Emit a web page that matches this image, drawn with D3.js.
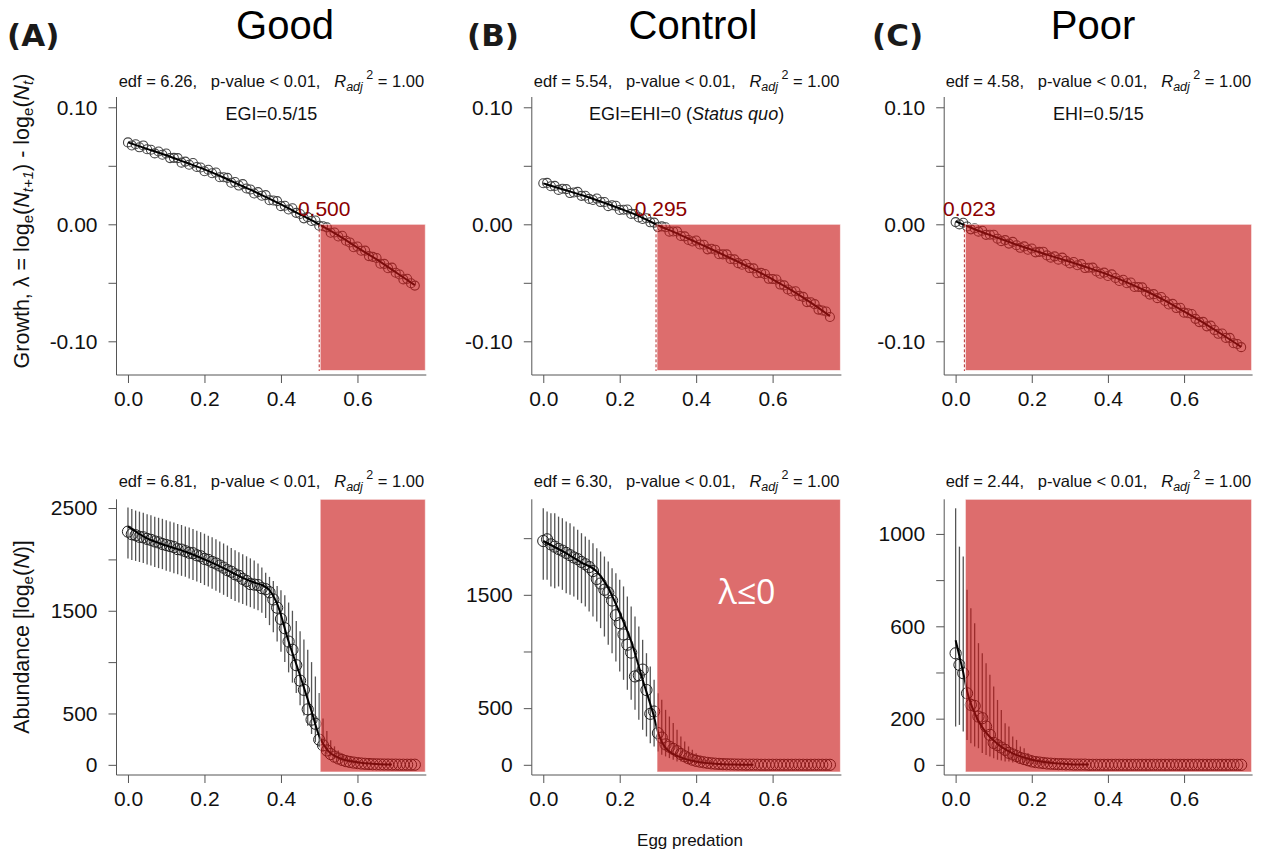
<!DOCTYPE html>
<html><head><meta charset="utf-8">
<script src="https://cdn.jsdelivr.net/npm/d3@7"></script>
<style>
body{margin:0;background:#fff}
svg{display:block;font-family:"Liberation Sans",Arial,sans-serif}
text{white-space:pre}
</style>
</head><body>
<svg id="c" width="1263" height="854"></svg>
<script>
// ---------------- data ----------------
const predation = [0,0.01,0.02,0.03,0.04,0.05,0.06,0.07,0.08,0.09,0.1,0.11,0.12,0.13,0.14,0.15,0.16,0.17,0.18,0.19,0.2,0.21,0.22,0.23,0.24,0.25,0.26,0.27,0.28,0.29,0.3,0.31,0.32,0.33,0.34,0.35,0.36,0.37,0.38,0.39,0.4,0.41,0.42,0.43,0.44,0.45,0.46,0.47,0.48,0.49,0.5,0.51,0.52,0.53,0.54,0.55,0.56,0.57,0.58,0.59,0.6,0.61,0.62,0.63,0.64,0.65,0.66,0.67,0.68,0.69,0.7,0.71,0.72,0.73,0.74,0.75];

const scenarios = ["Good","Control","Poor"];
const panelLetters = ["(A)","(B)","(C)"];
const edfGrowth = ["6.26","5.54","4.58"];
const edfAbund = ["6.81","6.30","2.44"];
const thresholds = [0.500, 0.295, 0.023];
const thresholdLabels = ["0.500","0.295","0.023"];

const growthGood = [0.0700,0.0674,0.0684,0.0658,0.0674,0.0641,0.0637,0.0606,0.0622,0.0595,
 0.0605,0.0566,0.0568,0.0566,0.0527,0.0536,0.0509,0.0524,0.0490,0.0485,
 0.0453,0.0466,0.0436,0.0443,0.0402,0.0402,0.0397,0.0355,0.0361,0.0331,
 0.0343,0.0306,0.0298,0.0263,0.0275,0.0244,0.0249,0.0206,0.0204,0.0198,
 0.0155,0.0159,0.0127,0.0137,0.0098,0.0088,0.0051,0.0061,0.0028,0.0032,
 -0.0012,-0.0017,-0.0026,-0.0072,-0.0070,-0.0104,-0.0098,-0.0141,-0.0155,-0.0196,
 -0.0190,-0.0226,-0.0225,-0.0272,-0.0278,-0.0288,-0.0337,-0.0338,-0.0375,-0.0370,
 -0.0414,-0.0429,-0.0471,-0.0466,-0.0504,-0.0524];
const growthControl = [0.0351,0.0354,0.0325,0.0328,0.0294,0.0304,0.0301,0.0267,0.0272,0.0277,
 0.0243,0.0244,0.0217,0.0208,0.0220,0.0190,0.0191,0.0155,0.0163,0.0158,
 0.0122,0.0124,0.0126,0.0089,0.0088,0.0059,0.0045,0.0052,0.0017,0.0014,
 -0.0024,-0.0018,-0.0025,-0.0063,-0.0062,-0.0061,-0.0100,-0.0103,-0.0134,-0.0147,
 -0.0139,-0.0173,-0.0175,-0.0214,-0.0209,-0.0217,-0.0256,-0.0257,-0.0257,-0.0297,
 -0.0300,-0.0332,-0.0346,-0.0339,-0.0374,-0.0377,-0.0418,-0.0415,-0.0425,-0.0466,
 -0.0468,-0.0472,-0.0515,-0.0522,-0.0557,-0.0574,-0.0572,-0.0612,-0.0620,-0.0665,
 -0.0666,-0.0682,-0.0729,-0.0737,-0.0745,-0.0792];
const growthPoor = [0.0019,-0.0001,0.0013,-0.0019,-0.0043,-0.0034,-0.0063,-0.0055,-0.0090,-0.0089,
 -0.0089,-0.0123,-0.0144,-0.0135,-0.0165,-0.0150,-0.0179,-0.0201,-0.0189,-0.0217,
 -0.0207,-0.0240,-0.0236,-0.0234,-0.0266,-0.0285,-0.0274,-0.0302,-0.0285,-0.0313,
 -0.0334,-0.0322,-0.0350,-0.0340,-0.0374,-0.0371,-0.0370,-0.0403,-0.0423,-0.0413,
 -0.0442,-0.0428,-0.0459,-0.0484,-0.0474,-0.0504,-0.0498,-0.0536,-0.0536,-0.0539,
 -0.0576,-0.0601,-0.0597,-0.0631,-0.0621,-0.0655,-0.0685,-0.0680,-0.0716,-0.0713,
 -0.0755,-0.0760,-0.0767,-0.0808,-0.0836,-0.0834,-0.0872,-0.0866,-0.0904,-0.0936,
 -0.0933,-0.0971,-0.0971,-0.1016,-0.1023,-0.1050];

const growthFitX = [0,0.05,0.1,0.15,0.2,0.25,0.3,0.35,0.4,0.45,0.5,0.55,0.6,0.65,0.7,0.75];
const growthGoodFit = [0.070,0.0645,0.059,0.053,0.047,0.040,0.0325,0.025,0.017,0.0085,0.000,-0.0095,-0.020,-0.030,-0.041,-0.052];
const growthControlFit = [0.035,0.030,0.025,0.0195,0.0135,0.007,-0.0008,-0.0078,-0.0153,-0.0228,-0.0305,-0.0385,-0.047,-0.0565,-0.067,-0.0785];
const growthPoorFit = [0.0025,-0.0042,-0.0103,-0.0162,-0.0218,-0.027,-0.032,-0.0373,-0.043,-0.0496,-0.057,-0.0652,-0.0745,-0.084,-0.0942,-0.1048];

const abundGood = [2270,2245,2235,2220,2215,2200,2190,2175,2165,2150,
 2140,2130,2120,2100,2095,2080,2065,2060,2040,2030,
 2005,1995,1975,1960,1940,1920,1895,1880,1855,1840,
 1810,1790,1760,1755,1750,1720,1710,1680,1610,1530,
 1420,1330,1200,1120,970,820,730,540,440,400,
 245,190,140,105,80,62,48,36,28,22,
 17,13,10,8,6,5,4,3,3,2,
 2,1,1,1,1,1];
const abundGoodLo = [2008,1995,1985,1975,1965,1950,1940,1925,1915,1905,
 1890,1880,1865,1855,1840,1830,1815,1800,1785,1770,
 1750,1735,1715,1695,1675,1655,1635,1615,1595,1580,
 1565,1550,1535,1520,1505,1480,1430,1360,1290,1200,
 1100,1000,900,800,700,580,480,380,300,220,
 170,130,100,80,60,45,35,25,18,12,8];
const abundGoodHi = [2506,2490,2475,2465,2455,2440,2430,2415,2405,2395,
 2380,2370,2360,2345,2335,2320,2310,2295,2280,2265,
 2250,2230,2215,2195,2175,2155,2135,2110,2090,2070,
 2050,2030,2010,1990,1960,1920,1870,1830,1790,1740,
 1700,1650,1580,1500,1400,1300,1220,1120,1000,860,
 700,450,330,240,180,140,110,80,60,45,35];
const abundGoodFitX = [0,0.05,0.10,0.15,0.20,0.25,0.30,0.33,0.35,0.37,0.39,0.42,0.45,0.48,0.50,0.52,0.55,0.60,0.65,0.69];
const abundGoodFit = [2320,2205,2135,2075,2000,1915,1820,1775,1750,1700,1570,1200,870,520,280,150,70,25,8,3];

const abundControl = [1975,1990,1945,1925,1905,1890,1870,1850,1830,1815,
 1790,1770,1745,1710,1640,1600,1545,1520,1450,1320,
 1250,1150,1060,990,780,790,840,660,450,470,
 280,240,180,160,140,120,95,75,58,45,
 35,28,22,17,13,10,8,6,5,4,
 3,2,2,1,1,1,1,0,0,0,
 0,0,0,0,0,0,0,0,0,0,
 0,0,0,0,0,0];
const abundControlLo = [1632,1632,1574,1559,1574,1544,1515,1500,1485,1456,
 1426,1397,1353,1309,1265,1206,1132,1059,985,912,
 824,750,662,574,485,397,309,250,191,162,
 118,88,74,59,44,29,29,21,15,15,9,9,6,6,3];
const abundControlHi = [2265,2235,2220,2220,2190,2176,2147,2132,2103,2074,
 2044,2015,1985,1956,1912,1882,1838,1794,1735,1691,
 1632,1574,1485,1397,1309,1221,1103,985,868,750,
 632,574,485,426,368,309,250,206,162,132,103,80,59,44,35];
const abundControlFitX = [0,0.05,0.10,0.14,0.17,0.20,0.23,0.26,0.29,0.30,0.32,0.36,0.40,0.45,0.50,0.55];
const abundControlFit = [1975,1885,1785,1705,1560,1340,1090,750,420,290,150,65,28,10,3,1];

const abundPoor = [483,433,397,310,260,255,209,202,166,130,
 95,85,75,65,52,45,38,30,25,20,
 15,12,10,8,6,5,4,3,3,2,
 2,1,1,1,1,0,0,0,0,0,
 0,0,0,0,0,0,0,0,0,0,
 0,0,0,0,0,0,0,0,0,0,
 0,0,0,0,0,0,0,0,0,0,
 0,0,0,0,0,0];
const abundPoorLo = [166,173,144,108,94,79,72,51,43,36,29,22,19,14,14,10,10,7,7,4,4,3,2,2,1,1];
const abundPoorHi = [1111,945,902,758,678,613,527,483,440,390,339,281,238,180,166,123,108,79,72,51,43,36,29,25,22,19];
const abundPoorFitX = [0,0.01,0.02,0.03,0.04,0.05,0.06,0.08,0.10,0.12,0.15,0.20,0.25,0.30,0.35];
const abundPoorFit = [540,470,400,320,265,225,190,140,105,78,50,22,9,3,1];

const xTicks = [0,0.2,0.4,0.6];
const xTickLabels = ["0.0","0.2","0.4","0.6"];
const growthTicks = [0.10,0.05,0.00,-0.05,-0.10];
const growthTickLabels = ["0.10","","0.00","","-0.10"];
const abundTicks = [[0,500,1000,1500,2000,2500],[0,500,1000,1500,2000],[0,200,400,600,800,1000]];
const abundTickLabels = [["0","500","","1500","","2500"],["0","500","","1500",""],["0","200","","600","","1000"]];

// ---------------- layout ----------------
const svg = d3.select("#c");
const colLeft = [116.5, 531.8, 944.2];
const colWidth = [309.8, 309.6, 308.4];
const rowTop = [97, 499.3];
const rowBottom = [375, 775];
const xDomain = [-0.03, 0.78];
const growthDomain = [-0.1288, 0.1088];
const abundDomains = [[-99,2585],[-90,2343],[-44,1150]];
const FONT = "'Liberation Sans', Arial, sans-serif";
const redFill = "rgb(200,20,20)";

const growthSets = [
  {pts: growthGood, fit: growthGoodFit},
  {pts: growthControl, fit: growthControlFit},
  {pts: growthPoor, fit: growthPoorFit}];
const abundSets = [
  {pts: abundGood, lo: abundGoodLo, hi: abundGoodHi, fx: abundGoodFitX, fit: abundGoodFit},
  {pts: abundControl, lo: abundControlLo, hi: abundControlHi, fx: abundControlFitX, fit: abundControlFit},
  {pts: abundPoor, lo: abundPoorLo, hi: abundPoorHi, fx: abundPoorFitX, fit: abundPoorFit}];

function drawAxes(g, x, y, yTicks, yLabels) {
  const [x0, x1] = x.range();
  const [yb, yt] = y.range();
  g.append("line").attr("x1", x0).attr("x2", x1).attr("y1", yb).attr("y2", yb)
    .attr("stroke", "#555").attr("stroke-width", 1);
  g.append("line").attr("x1", x0).attr("x2", x0).attr("y1", yb).attr("y2", yt)
    .attr("stroke", "#555").attr("stroke-width", 1);
  const ax = g.append("g").attr("transform", `translate(0,${yb})`)
    .call(d3.axisBottom(x).tickValues(xTicks).tickFormat((d, i) => xTickLabels[i])
      .tickSize(8).tickPadding(8).tickSizeOuter(0));
  const ay = g.append("g").attr("transform", `translate(${x0},0)`)
    .call(d3.axisLeft(y).tickValues(yTicks).tickFormat((d, i) => yLabels[i])
      .tickSize(8).tickPadding(11).tickSizeOuter(0));
  [ax, ay].forEach(a => {
    a.select(".domain").remove();
    a.attr("font-size", 21).attr("font-family", FONT);
    a.selectAll(".tick line").attr("stroke", "#555");
    a.selectAll(".tick text").attr("fill", "#111");
  });
}

function statsText(g, cx, y, edf) {
  const t = g.append("text").attr("x", cx).attr("y", y).attr("text-anchor", "middle")
    .attr("font-size", 16.5).attr("font-family", FONT).attr("fill", "#111");
  t.append("tspan").text(`edf = ${edf},   p-value < 0.01,   `);
  t.append("tspan").attr("font-style", "italic").text("R");
  t.append("tspan").attr("font-style", "italic").attr("font-size", 12.5).attr("dy", 4).text("adj");
  t.append("tspan").attr("font-size", 12.5).attr("dy", -12).text(" 2");
  t.append("tspan").attr("dy", 8).text(" = 1.00");
}

const lineGen = (x, y) => d3.line().x(d => x(d[0])).y(d => y(d[1])).curve(d3.curveMonotoneX);

for (let c = 0; c < 3; c++) {
  const x = d3.scaleLinear().domain(xDomain).range([colLeft[c], colLeft[c] + colWidth[c]]);
  const cx = colLeft[c] + colWidth[c] / 2;

  // ---- top: growth ----
  {
    const g = svg.append("g");
    const y = d3.scaleLinear().domain(growthDomain).range([rowBottom[0], rowTop[0]]);
    const set = growthSets[c];
    drawAxes(g, x, y, growthTicks, growthTickLabels);
    g.append("g").selectAll("circle").data(predation.map((p, i) => [p, set.pts[i]])).join("circle")
      .attr("cx", d => x(d[0])).attr("cy", d => y(d[1])).attr("r", 4.5)
      .attr("fill", "none").attr("stroke", "#444").attr("stroke-width", 1.1);
    g.append("path").datum(growthFitX.map((p, i) => [p, set.fit[i]]))
      .attr("d", lineGen(x, y)).attr("fill", "none").attr("stroke", "#000").attr("stroke-width", 2);
    const rx = x(thresholds[c]);
    g.append("rect").attr("x", rx + 1).attr("y", y(0))
      .attr("width", x.range()[1] - rx - 2).attr("height", rowBottom[0] - 4.5 - y(0))
      .attr("fill", redFill).attr("fill-opacity", 0.62)
      .attr("stroke", "#fff").attr("stroke-opacity", 0.6).attr("stroke-width", 1);
    g.append("line").attr("x1", rx).attr("x2", rx).attr("y1", y(0)).attr("y2", rowBottom[0] - 4)
      .attr("stroke", "#b83030").attr("stroke-width", 1).attr("stroke-dasharray", "3,2");
    g.append("text").attr("x", rx + 5).attr("y", y(0) - 8).attr("text-anchor", "middle")
      .attr("font-size", 21).attr("font-family", FONT).attr("fill", "#8b0000").text(thresholdLabels[c]);
    statsText(g, cx, 87, edfGrowth[c]);
    const ann = g.append("text").attr("x", cx).attr("y", 120).attr("text-anchor", "middle")
      .attr("font-size", 18).attr("font-family", FONT).attr("fill", "#111");
    if (c === 0) ann.text("EGI=0.5/15");
    if (c === 1) { ann.append("tspan").text("EGI=EHI=0 ("); ann.append("tspan").attr("font-style", "italic").text("Status quo"); ann.append("tspan").text(")"); }
    if (c === 2) ann.text("EHI=0.5/15");
  }

  // ---- bottom: abundance ----
  {
    const g = svg.append("g");
    const y = d3.scaleLinear().domain(abundDomains[c]).range([rowBottom[1], rowTop[1]]);
    const set = abundSets[c];
    drawAxes(g, x, y, abundTicks[c], abundTickLabels[c]);
    g.append("g").selectAll("line").data(set.lo.map((l, i) => [predation[i], l, set.hi[i]])).join("line")
      .attr("x1", d => x(d[0])).attr("x2", d => x(d[0]))
      .attr("y1", d => y(d[1])).attr("y2", d => y(d[2]))
      .attr("stroke", "#555").attr("stroke-width", 1.3);
    g.append("g").selectAll("circle").data(predation.map((p, i) => [p, set.pts[i]])).join("circle")
      .attr("cx", d => x(d[0])).attr("cy", d => y(d[1])).attr("r", 5.6)
      .attr("fill", "none").attr("stroke", "#222").attr("stroke-width", 1);
    g.append("path").datum(set.fx.map((p, i) => [p, set.fit[i]]))
      .attr("d", lineGen(x, y)).attr("fill", "none").attr("stroke", "#000").attr("stroke-width", 2);
    const rx = x(thresholds[c]);
    g.append("rect").attr("x", rx + 1).attr("y", rowTop[1])
      .attr("width", x.range()[1] - rx - 2).attr("height", rowBottom[1] - 3 - rowTop[1])
      .attr("fill", redFill).attr("fill-opacity", 0.62)
      .attr("stroke", "#fff").attr("stroke-opacity", 0.6).attr("stroke-width", 1);
    statsText(g, cx, 487, edfAbund[c]);
    if (c === 1) {
      g.append("text").attr("x", 747).attr("y", 604).attr("text-anchor", "middle")
        .attr("font-size", 34).attr("font-family", "'Open Sans','Noto Sans',sans-serif").attr("fill", "#fff").text("λ≤0");
    }
  }

  // ---- titles ----
  svg.append("text").attr("x", [285, 693, 1093][c]).attr("y", 39).attr("text-anchor", "middle")
    .attr("font-size", 40).attr("font-family", FONT).attr("fill", "#000").text(scenarios[c]);
  svg.append("text").attr("x", [7, 467, 872][c]).attr("y", 46)
    .attr("font-size", 31).attr("font-weight", "bold").attr("font-family", "'DejaVu Sans',sans-serif")
    .attr("fill", "#1a1a1a").text(panelLetters[c]);
}

// ---- axis titles ----
const yl1 = svg.append("text").attr("transform", "translate(29,221) rotate(-90)").attr("text-anchor", "middle")
  .attr("font-size", 21.5).attr("font-family", FONT).attr("fill", "#111");
yl1.append("tspan").text("Growth, λ = log");
yl1.append("tspan").attr("font-size", 15).attr("dy", 4).text("e");
yl1.append("tspan").attr("dy", -4).text("(");
yl1.append("tspan").attr("font-style", "italic").text("N");
yl1.append("tspan").attr("font-style", "italic").attr("font-size", 15).attr("dy", 4).text("t+1");
yl1.append("tspan").attr("dy", -4).text(") - log");
yl1.append("tspan").attr("font-size", 15).attr("dy", 4).text("e");
yl1.append("tspan").attr("dy", -4).text("(");
yl1.append("tspan").attr("font-style", "italic").text("N");
yl1.append("tspan").attr("font-style", "italic").attr("font-size", 15).attr("dy", 4).text("t");
yl1.append("tspan").attr("dy", -4).text(")");

const yl2 = svg.append("text").attr("transform", "translate(29,637) rotate(-90)").attr("text-anchor", "middle")
  .attr("font-size", 21.5).attr("font-family", FONT).attr("fill", "#111");
yl2.append("tspan").text("Abundance [log");
yl2.append("tspan").attr("font-size", 15).attr("dy", 4).text("e");
yl2.append("tspan").attr("dy", -4).text("(");
yl2.append("tspan").attr("font-style", "italic").text("N");
yl2.append("tspan").text(")]");

svg.append("text").attr("x", 690).attr("y", 846).attr("text-anchor", "middle")
  .attr("font-size", 17).attr("font-family", FONT).attr("fill", "#111").text("Egg predation");
</script>
</body></html>
